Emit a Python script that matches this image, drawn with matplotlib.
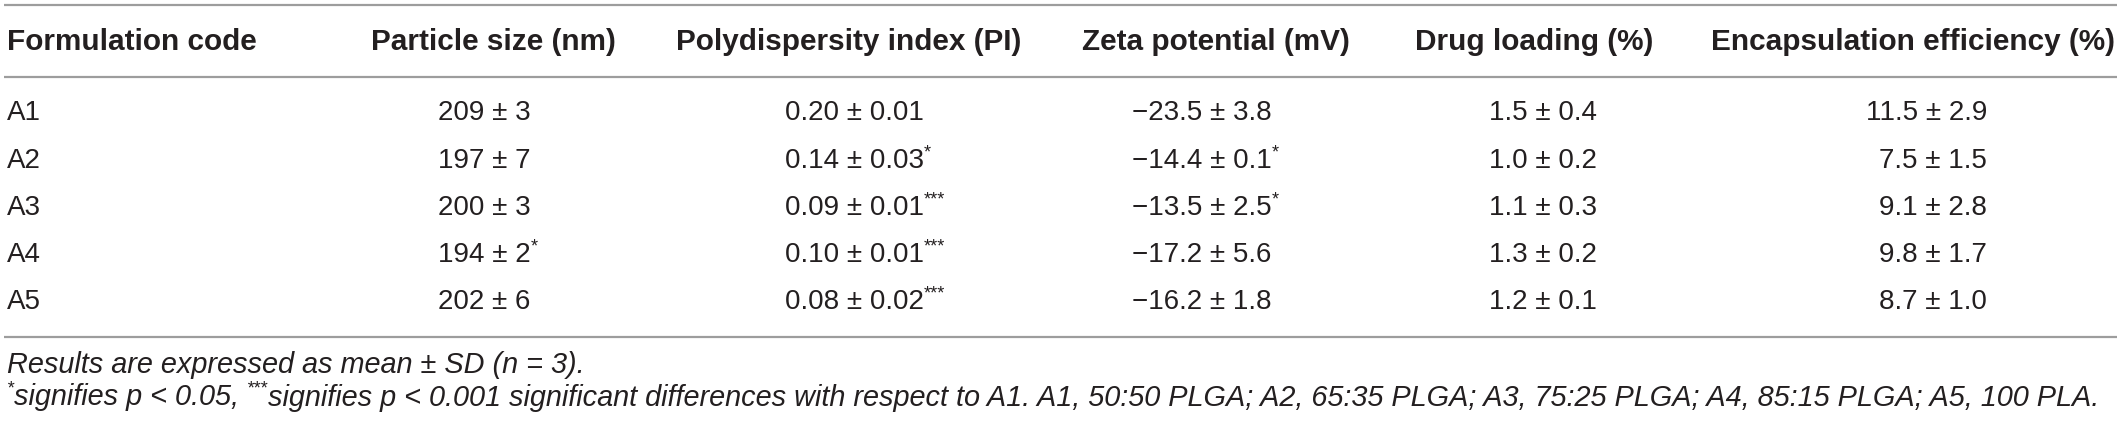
import matplotlib
matplotlib.use("Agg")
from matplotlib import pyplot as plt

# table values, mean and SD (n = 3)
codes = ["A1", "A2", "A3", "A4", "A5"]
size_mean = [209, 197, 200, 194, 202]
size_sd = [3, 7, 3, 2, 6]
size_sig = ["", "", "", "*", ""]
pi_mean = [0.20, 0.14, 0.09, 0.10, 0.08]
pi_sd = [0.01, 0.03, 0.01, 0.01, 0.02]
pi_sig = ["", "*", "***", "***", "***"]
zeta_mean = [-23.5, -14.4, -13.5, -17.2, -16.2]
zeta_sd = [3.8, 0.1, 2.5, 5.6, 1.8]
zeta_sig = ["", "*", "*", "", ""]
dl_mean = [1.5, 1.0, 1.1, 1.3, 1.2]
dl_sd = [0.4, 0.2, 0.3, 0.2, 0.1]
ee_mean = [11.5, 7.5, 9.1, 9.8, 8.7]
ee_sd = [2.9, 1.5, 2.8, 1.7, 1.0]

headers = ["Formulation code", "Particle size (nm)", "Polydispersity index (PI)",
           "Zeta potential (mV)", "Drug loading (%)", "Encapsulation efficiency (%)"]

note1 = "Results are expressed as mean \u00b1 SD (n = 3)."
# (text, is_superscript) pieces of the second footnote
note2 = [("*", True), ("signifies p < 0.05, ", False), ("***", True),
         ("signifies p < 0.001 significant differences with respect to A1. "
          "A1, 50:50 PLGA; A2, 65:35 PLGA; A3, 75:25 PLGA; A4, 85:15 PLGA; "
          "A5, 100 PLA.", False)]

plt.rcParams['font.family'] = ['Liberation Sans', 'DejaVu Sans']

W, H = 2121, 423
fig = plt.figure(figsize=(W / 100, H / 100), dpi=100)
ax = fig.add_axes([0, 0, 1, 1])
ax.set_xlim(0, W)
ax.set_ylim(H, 0)
ax.axis("off")

txt = "#231f20"
rule = "#9d9d9d"
body = 20
small = 13


def fmt(m, s, nd):
    a = f"{abs(m):.{nd}f}"
    if m < 0:
        a = "\u2212" + a
    return f"{a} \u00b1 {s:.{nd}f}"


def cell(x, y, s, mark="", ha="left"):
    t = ax.text(x, y, s, fontsize=body, color=txt, ha=ha, va="center")
    if mark:
        ax.annotate(mark, xy=(1, 0.5), xycoords=t, fontsize=small, color=txt,
                    ha="left", va="bottom")
    return t


# rules
for yy in [5, 77, 337]:
    ax.plot([4, 2117], [yy, yy], color=rule, lw=1.6, solid_capstyle="butt")

# header
head_x = [7, 493, 849, 1216, 1534, 1913]
for i, h in enumerate(headers):
    ax.text(head_x[i], 42, h, fontsize=21.4, fontweight="bold", color=txt,
            ha="left" if i == 0 else "center", va="center")

row_y = [113, 161, 208, 255, 302]
for r in range(len(codes)):
    y = row_y[r]
    cell(7, y, codes[r])
    cell(438, y, f"{size_mean[r]} \u00b1 {size_sd[r]}", size_sig[r])
    cell(785, y, fmt(pi_mean[r], pi_sd[r], 2), pi_sig[r])
    cell(1132, y, fmt(zeta_mean[r], zeta_sd[r], 1), zeta_sig[r])
    cell(1489, y, fmt(dl_mean[r], dl_sd[r], 1))
    cell(1987, y, fmt(ee_mean[r], ee_sd[r], 1), ha="right")

foot = 20.8
ax.text(7, 365, note1, fontsize=foot, style="italic", color=txt, ha="left", va="center")

# second footnote built piece by piece so the asterisks sit raised
prev = ax.text(7, 397, "", fontsize=foot, style="italic", color=txt, ha="left", va="center")
for piece, raised in note2:
    if raised:
        prev = ax.annotate(piece, xy=(1, 0.48), xycoords=prev, fontsize=small,
                           style="italic", color=txt, ha="left", va="bottom")
        # keep the following text on the main baseline
        prev = ax.annotate("", xy=(1, 0), xycoords=prev, fontsize=foot,
                           ha="left", va="bottom")
    else:
        prev = ax.annotate(piece, xy=(1, 0.5), xycoords=prev, fontsize=foot,
                           style="italic", color=txt, ha="left", va="center")

plt.savefig("out.png", dpi=100)
